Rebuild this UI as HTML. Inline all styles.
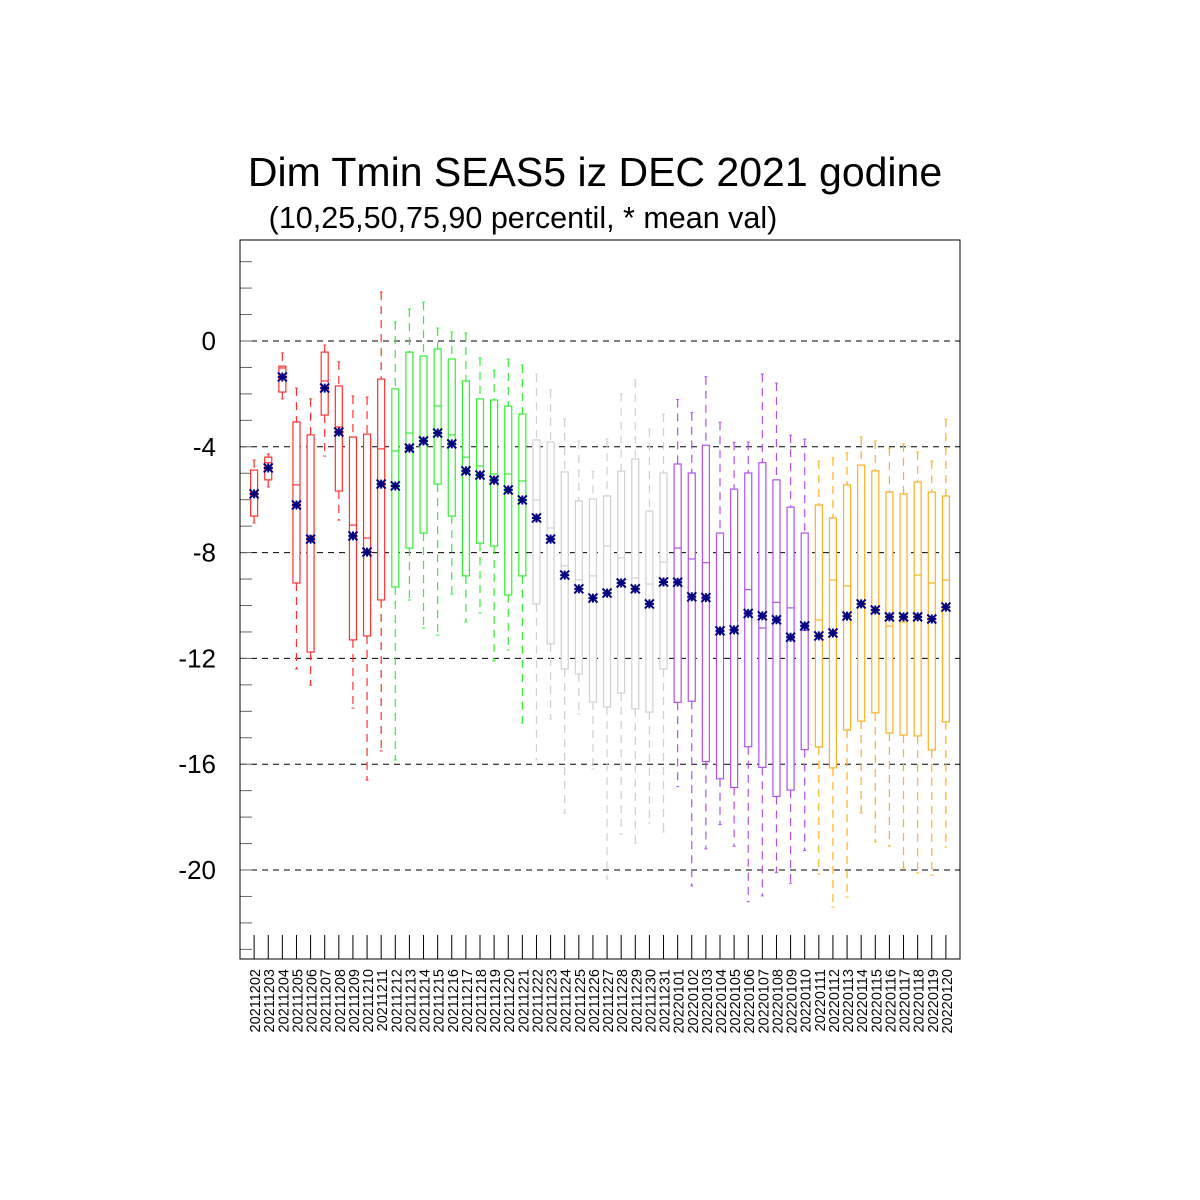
<!DOCTYPE html>
<html><head><meta charset="utf-8"><style>
html,body{margin:0;padding:0;background:#fff;}
svg{display:block;font-family:"Liberation Sans",sans-serif;}
</style></head><body>
<svg id="chart" width="1200" height="1200" viewBox="0 0 1200 1200" xmlns="http://www.w3.org/2000/svg">
<rect width="1200" height="1200" fill="#fff"/>
<text x="595" y="186" font-size="41" text-anchor="middle">Dim Tmin SEAS5 iz DEC 2021 godine</text>
<text x="523" y="228" font-size="30.5" text-anchor="middle">(10,25,50,75,90 percentil, * mean val)</text>
<g id="grid"></g><g id="axes"></g><g id="marks"></g>
<rect x="240" y="240" width="720" height="719" fill="none" stroke="#000" stroke-width="1"/>
</svg>
<script>
const categories=["20211202","20211203","20211204","20211205","20211206","20211207","20211208","20211209","20211210","20211211","20211212","20211213","20211214","20211215","20211216","20211217","20211218","20211219","20211220","20211221","20211222","20211223","20211224","20211225","20211226","20211227","20211228","20211229","20211230","20211231","20220101","20220102","20220103","20220104","20220105","20220106","20220107","20220108","20220109","20220110","20220111","20220112","20220113","20220114","20220115","20220116","20220117","20220118","20220119","20220120"];
const p90=[-4.50,-4.27,-0.45,-1.78,-2.19,-0.15,-0.79,-2.08,-2.12,1.85,0.72,1.21,1.47,0.49,0.34,0.30,-0.64,-1.10,-0.68,-0.91,-1.25,-1.85,-2.95,-3.78,-4.92,-3.71,-2.00,-1.47,-3.33,-2.76,-2.21,-2.71,-1.35,-3.07,-3.83,-3.82,-1.25,-1.59,-3.56,-3.71,-4.54,-4.42,-4.23,-3.63,-3.78,-4.05,-3.89,-4.20,-4.54,-2.95];
const p75=[-4.88,-4.39,-0.95,-3.06,-3.55,-0.42,-1.70,-3.63,-3.52,-1.44,-1.81,-0.42,-0.57,-0.30,-0.68,-1.51,-2.19,-2.23,-2.46,-2.76,-3.74,-3.82,-4.95,-6.05,-5.97,-5.86,-4.92,-4.46,-6.43,-4.99,-4.65,-4.99,-3.94,-7.26,-5.60,-4.99,-4.60,-5.25,-6.28,-7.26,-6.20,-6.69,-5.44,-4.69,-4.91,-5.71,-5.78,-5.33,-5.71,-5.86];
const p50=[-5.75,-4.60,-1.02,-5.44,-7.37,-1.51,-3.25,-6.96,-7.45,-4.08,-4.16,-3.48,-3.74,-2.46,-3.55,-4.39,-4.73,-5.03,-5.03,-5.29,-6.01,-7.07,-8.50,-9.03,-8.88,-7.75,-8.20,-8.96,-9.19,-8.36,-7.83,-8.24,-8.38,-10.90,-10.90,-9.40,-10.85,-9.88,-10.09,-10.94,-10.55,-9.04,-9.26,-9.94,-10.17,-10.78,-10.62,-8.85,-9.15,-9.04];
const p25=[-6.62,-5.25,-1.93,-9.15,-11.76,-2.80,-5.67,-11.30,-11.15,-9.79,-9.30,-7.83,-7.26,-5.41,-6.62,-8.88,-7.64,-7.75,-9.60,-8.88,-9.94,-11.45,-12.40,-12.59,-13.65,-13.84,-13.31,-13.91,-14.03,-12.40,-13.66,-13.62,-15.90,-16.55,-16.88,-15.34,-16.12,-17.22,-16.98,-15.45,-15.35,-16.14,-14.71,-14.37,-14.06,-14.82,-14.90,-14.93,-15.46,-14.40];
const p10=[-6.88,-5.52,-2.19,-12.40,-13.01,-4.35,-6.77,-13.88,-16.60,-15.50,-15.84,-9.79,-10.85,-11.12,-9.57,-10.62,-10.28,-12.10,-11.68,-14.44,-15.84,-14.29,-17.85,-14.10,-16.18,-20.34,-18.64,-18.98,-18.22,-18.56,-16.85,-20.60,-19.20,-18.28,-19.10,-21.20,-20.98,-20.10,-20.50,-19.26,-20.15,-21.40,-21.02,-17.84,-18.94,-19.09,-19.92,-20.11,-20.19,-19.13];
const means=[-5.78,-4.80,-1.36,-6.20,-7.49,-1.78,-3.44,-7.37,-7.98,-5.41,-5.48,-4.05,-3.78,-3.48,-3.89,-4.91,-5.07,-5.26,-5.63,-6.01,-6.69,-7.49,-8.85,-9.37,-9.72,-9.53,-9.15,-9.37,-9.94,-9.11,-9.12,-9.67,-9.70,-10.96,-10.92,-10.30,-10.39,-10.54,-11.20,-10.77,-11.15,-11.04,-10.40,-9.94,-10.17,-10.43,-10.43,-10.43,-10.51,-10.06];
const yTicks=[0,-4,-8,-12,-16,-20];
const groupColors=["#ff3030","#30f030","#d0d0d0","#b050f0","#ffb020"];

const NS="http://www.w3.org/2000/svg";
const X0=240,X1=960,Y0=341,PXU=26.45,YTOP=240,YBOT=959;
const step=(X1-X0)/(categories.length+1);
function xs(i){return X0+(i+1)*step;}
function ys(v){return Y0-v*PXU;}
function mk(tag,attrs,parent){const e=document.createElementNS(NS,tag);for(const k in attrs)e.setAttribute(k,attrs[k]);parent.appendChild(e);return e;}
const grid=document.getElementById('grid'),axes=document.getElementById('axes'),marks=document.getElementById('marks');

for(let v=3;v>=-23;v--){
  const y=ys(v);
  const t=mk('line',{x1:X0,x2:X0+12,y1:y,y2:y,stroke:'#666','stroke-width':1},axes);
  
  
}
yTicks.forEach(v=>{
  const y=ys(v);
  const g=mk('line',{x1:X0,x2:X1,y1:y,y2:y,stroke:'#000','stroke-width':1,'stroke-dasharray':'6,5'},grid);
  
  
  const t=mk('text',{x:216,y:y+9,'font-size':26,'text-anchor':'end'},axes);
  t.textContent=String(v);
  
  
});
categories.forEach((c,i)=>{
  const x=xs(i);
  const t=mk('line',{x1:x,x2:x,y1:YBOT-24,y2:YBOT,stroke:'#000','stroke-width':1},axes);
  
  
  const l=mk('text',{x:0,y:0,'font-size':14.5,'text-anchor':'end',transform:'translate('+(x+6)+',969) rotate(-90)'},axes);
  l.textContent=c;
  
  
});
categories.forEach((c,i)=>{
  const x=xs(i),col=groupColors[Math.floor(i/10)],w=3.5;
  const g=mk('g',{},marks);
  
  
  mk('line',{x1:x,x2:x,y1:ys(p90[i]),y2:ys(p75[i]),stroke:col,'stroke-width':1.2,'stroke-dasharray':'8,6'},g);
  mk('line',{x1:x,x2:x,y1:ys(p25[i]),y2:ys(p10[i]),stroke:col,'stroke-width':1.2,'stroke-dasharray':'8,6'},g);
  mk('line',{x1:x-1.5,x2:x+1.5,y1:ys(p90[i]),y2:ys(p90[i]),stroke:col,'stroke-width':1},g);
  mk('line',{x1:x-1.5,x2:x+1.5,y1:ys(p10[i]),y2:ys(p10[i]),stroke:col,'stroke-width':1},g);
  mk('rect',{x:x-w,y:ys(p75[i]),width:2*w,height:ys(p25[i])-ys(p75[i]),fill:'#fff',stroke:col,'stroke-width':1.2},g);
  mk('line',{x1:x-w,x2:x+w,y1:ys(p50[i]),y2:ys(p50[i]),stroke:col,'stroke-width':1.2},g);
  const my=ys(means[i]),r=4.5;
  const m=mk('path',{d:'M'+(x-r)+' '+my+'H'+(x+r)+'M'+x+' '+(my-r)+'V'+(my+r)+'M'+(x-r)+' '+(my-r)+'L'+(x+r)+' '+(my+r)+'M'+(x-r)+' '+(my+r)+'L'+(x+r)+' '+(my-r),stroke:'#000080','stroke-width':2,fill:'none'},marks);
  
  
});
</script>
</body></html>
